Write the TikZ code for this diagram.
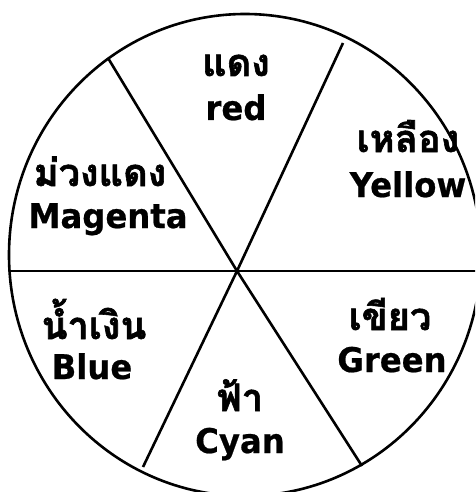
\documentclass[tikz,border=0pt]{standalone}
\usepackage{fontspec}
\setmainfont{DejaVu Sans}[FakeStretch=0.95, BoldFeatures={FakeBold=0.6}]
\newfontfamily\thaifont{Loma}[Script=Thai, BoldFeatures={FakeBold=1.5}]
\tikzset{
  wheel/.style={line width=2.6pt, black},
  en/.style={anchor=base, inner sep=0pt, text height=25pt, font=\fontsize{34}{36}\selectfont\bfseries},
  th/.style={anchor=base, inner sep=0pt, text depth=0pt, font=\thaifont\fontsize{38}{40}\selectfont\bfseries}
}
\begin{document}
\begin{tikzpicture}[x=1pt,y=-1pt]
\useasboundingbox (0,0) rectangle (475,492);
\fill[white] (0,0) rectangle (475,492);
\begin{scope}
\clip (0,0) rectangle (475,492);
\draw[wheel] (245,255) ellipse [x radius=236pt, y radius=241pt];
\coordinate (c) at (237,271);
\coordinate (ul) at (108,58);
\coordinate (ur) at (343,43);
\coordinate (ll) at (143,467);
\coordinate (lr) at (362,466);
\coordinate (l) at (9.5,271);
\coordinate (r) at (480,271);
\draw[wheel] (ul) -- (c) -- (lr);
\draw[wheel] (ur) -- (c) -- (ll);
\draw[wheel] (l) -- (r);
\end{scope}
\node[th] (t1) at (236,76) {แดง};
\node[en] (e1) at (236,120) {red};
\node[th] (t2) at (408,152) {เหลือง};
\node[en] (e2) at (408,197) {Yellow};
\node[th] (t3) at (100,186) {ม่วงแดง};
\node[en] (e3) at (108,228) {Magenta};
\node[th] (t4) at (94,339) {น้ำเงิน};
\node[en] (e4) at (92,379) {Blue};
\node[th] (t5) at (390,330) {เขียว};
\node[en] (e5) at (392,372) {Green};
\node[th] (t6) at (240,411) {ฟ้า};
\node[en] (e6) at (240,453) {Cyan};
\end{tikzpicture}
\end{document}
